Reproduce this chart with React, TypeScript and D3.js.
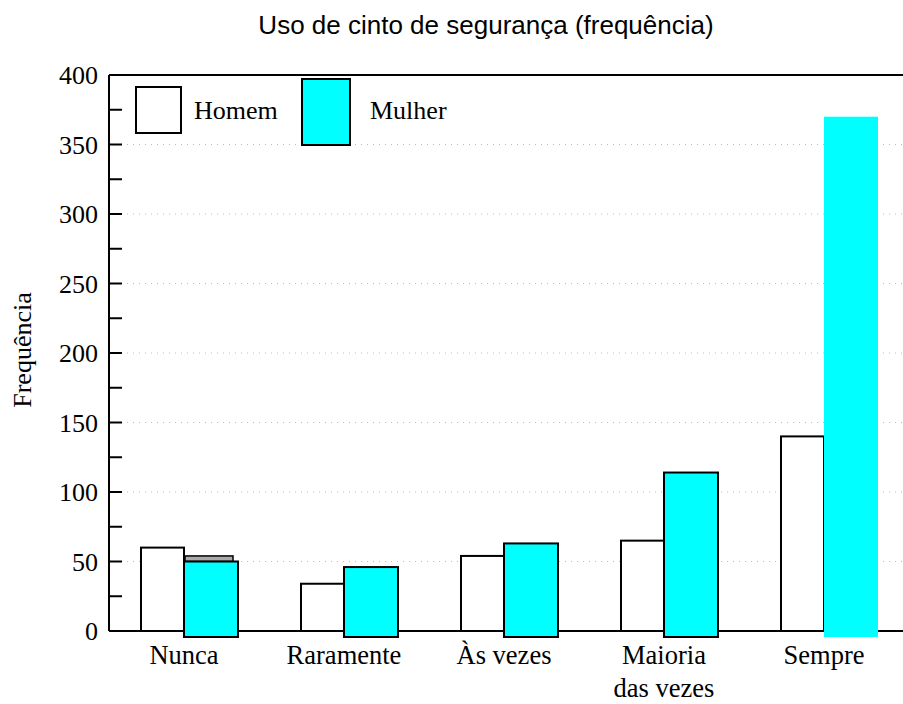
import React from "react";
import * as d3 from "d3";

const categories = ["Nunca", "Raramente", "Às vezes", "Maioria das vezes", "Sempre"];
const categoryLines = [["Nunca"], ["Raramente"], ["Às vezes"], ["Maioria", "das vezes"], ["Sempre"]];
const homem = [60, 34, 54, 65, 140];
const mulher = [50, 46, 63, 114, 370];
const mulherGhost = [54, 0, 0, 0, 0];
const yTicks = [0, 50, 100, 150, 200, 250, 300, 350, 400];
const minorTicks = [25, 75, 125, 175, 225, 275, 325, 375];
const title = "Uso de cinto de segurança (frequência)";
const yLabel = "Frequência";
const seriesNames = ["Homem", "Mulher"];

const W = 903;
const H = 704;
const axisX = 109;
const serif = "'Liberation Serif', 'Times New Roman', serif";
const sans = "'Liberation Sans', Arial, sans-serif";
const CYAN = "#00ffff";

export default function App() {
  const y = d3.scaleLinear().domain([0, 400]).range([631, 75]);
  const x = d3.scaleBand().domain(categories).range([104, 904]).padding(0);
  const hw = 43;
  const mw = 54;
  const center = (c: string) => (x(c) as number) + x.bandwidth() / 2;

  return (
    <svg width={W} height={H} style={{ position: "absolute", left: 0, top: 0, background: "#fff" }}>
      <text x={486} y={34} textAnchor="middle" fontFamily={sans} fontSize={26} fill="#000">{title}</text>

      {/* gridlines */}
      {yTicks.filter((t) => t > 0 && t < 400).map((t) => (
        <line key={"g" + t} x1={axisX} x2={W} y1={y(t)} y2={y(t)} stroke="#bbb" strokeWidth={1} strokeDasharray="1,5" />
      ))}

      {/* axes */}
      <line x1={axisX} x2={W} y1={y(0)} y2={y(0)} stroke="#000" strokeWidth={2} />
      <line x1={axisX} x2={W} y1={y(400)} y2={y(400)} stroke="#000" strokeWidth={2} />
      <line x1={axisX} x2={axisX} y1={y(400)} y2={y(0)} stroke="#000" strokeWidth={2} />
      {yTicks.concat(minorTicks).map((t) => (
        <line key={"t" + t} x1={axisX} x2={axisX + 13} y1={y(t)} y2={y(t)} stroke="#000" strokeWidth={2} />
      ))}

      {/* bars */}
      {categories.map((c, i) => {
        const cx = center(c);
        const last = i === categories.length - 1;
        return (
          <g key={c}>
            <rect x={cx - hw} y={y(homem[i])} width={hw} height={y(0) - y(homem[i])} fill="#fff" stroke="#000" strokeWidth={2} />
            {mulherGhost[i] > mulher[i] && (
              <rect x={cx + 1} y={y(mulherGhost[i])} width={mw - 6} height={y(mulher[i]) - y(mulherGhost[i])} fill="#aaa" stroke="#000" strokeWidth={1.5} />
            )}
            <rect x={cx} y={y(mulher[i])} width={mw} height={y(0) - y(mulher[i]) + 6} fill={CYAN} stroke={last ? "none" : "#000"} strokeWidth={2} />
          </g>
        );
      })}

      {yTicks.map((t) => (
        <text key={"l" + t} x={98} y={y(t) + 9} textAnchor="end" fontFamily={serif} fontSize={26} fill="#000">{t}</text>
      ))}
      <text transform={`translate(31,350) rotate(-90)`} textAnchor="middle" fontFamily={serif} fontSize={26} fill="#000">{yLabel}</text>

      {/* x labels */}
      {categories.map((c, i) => (
        <text key={"x" + c} x={center(c)} y={664} textAnchor="middle" fontFamily={serif} fontSize={26.5} fill="#000">
          {categoryLines[i].map((ln, j) => (
            <tspan key={j} x={center(c)} dy={j === 0 ? 0 : 33}>{ln}</tspan>
          ))}
        </text>
      ))}

      {/* legend */}
      <rect x={136} y={87} width={45} height={46} fill="#fff" stroke="#000" strokeWidth={2} />
      <text x={194} y={119} fontFamily={serif} fontSize={26} fill="#000">{seriesNames[0]}</text>
      <rect x={302} y={79} width={48} height={66} fill={CYAN} stroke="#000" strokeWidth={2} />
      <text x={370} y={119} fontFamily={serif} fontSize={26} fill="#000">{seriesNames[1]}</text>
    </svg>
  );
}
